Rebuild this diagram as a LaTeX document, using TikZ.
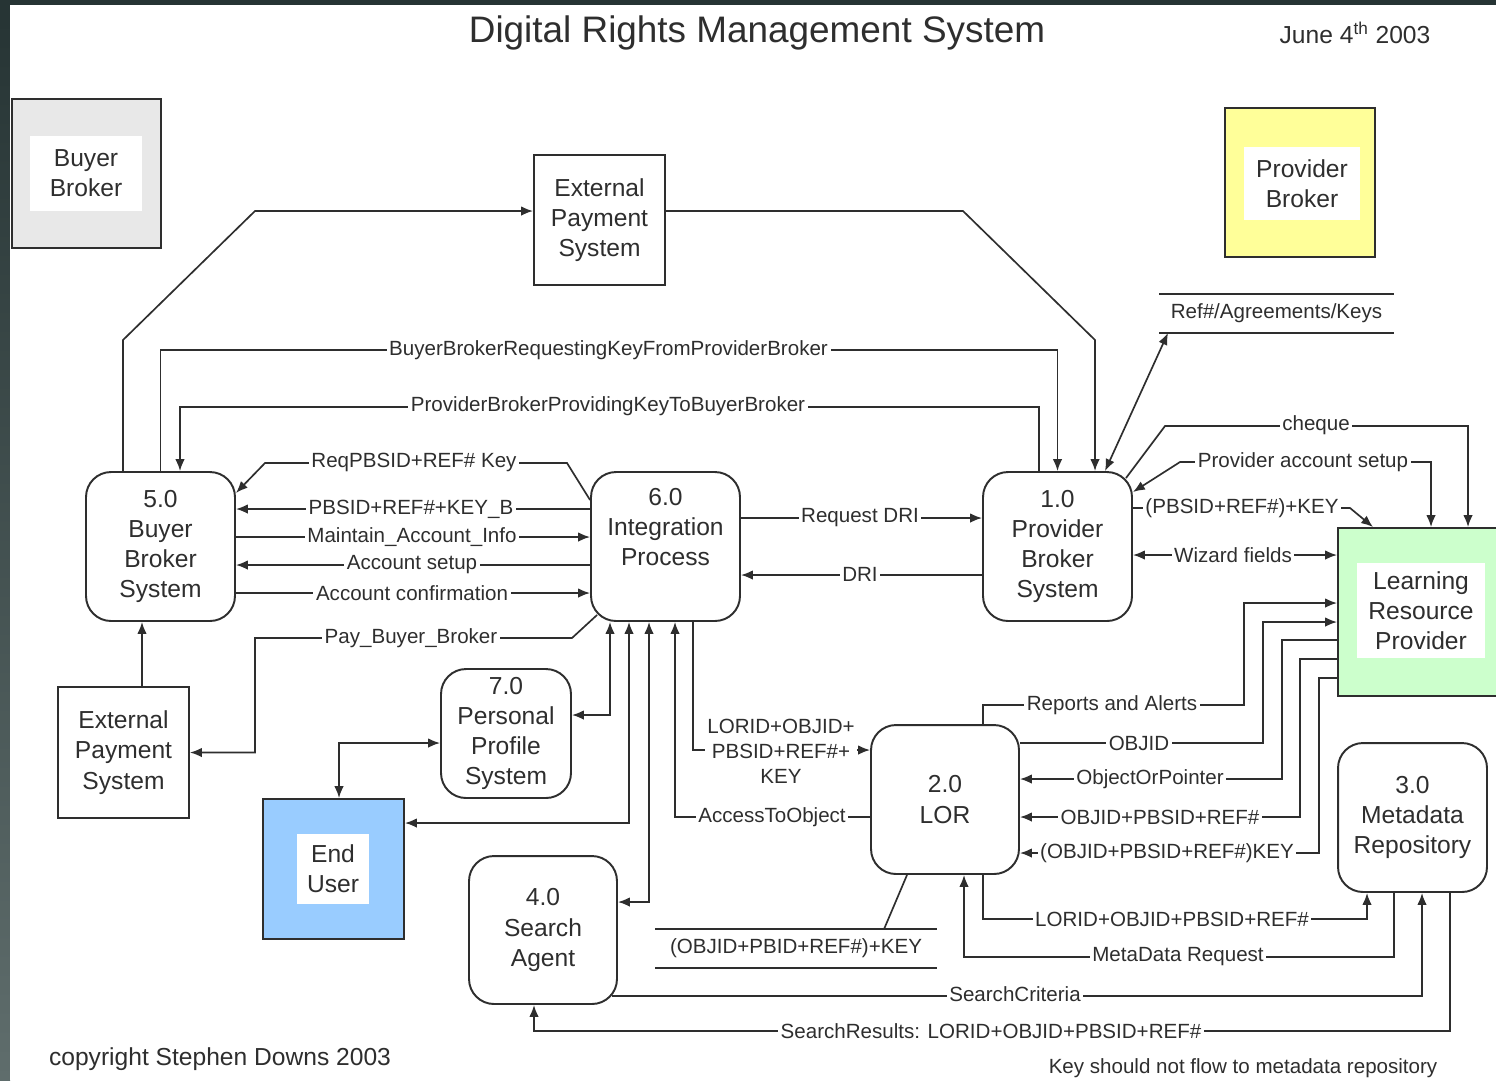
\documentclass[tikz,border=0pt]{standalone}
\usepackage{fontspec}
\setmainfont{Liberation Sans}
\usetikzlibrary{arrows.meta}

\definecolor{framedark}{HTML}{263434}
\definecolor{framelight}{HTML}{5F6D6C}
\definecolor{buyergray}{HTML}{E8E8E8}
\definecolor{provyellow}{HTML}{FFFF99}
\definecolor{userblue}{HTML}{99CCFF}
\definecolor{lrpgreen}{HTML}{CCFFCC}

\newcommand\boxfont{\fontsize{14}{17.2}\selectfont}
\newcommand\lblfont{\fontsize{11.7}{14.2}\selectfont}

\begin{document}
\begin{tikzpicture}[x=0.02cm, y=-0.02cm, color=black!82,
    >={Latex[length=6.8pt,width=5.4pt]}, line width=0.95pt,
    proc/.style={draw, line width=1.1pt, rounded corners=0.5cm, fill=white, align=center,
      font=\boxfont, minimum width=2.98cm, minimum height=2.98cm, inner sep=0pt},
    extbox/.style={draw, line width=1.1pt, fill=white, align=center, font=\boxfont,
      minimum width=2.62cm, minimum height=2.6cm, inner sep=0pt},
    actor/.style={draw, line width=1.1pt, minimum width=2.98cm, minimum height=2.98cm, inner sep=0pt},
    actorlbl/.style={fill=white, align=center, font=\boxfont, inner sep=0pt},
    lbl/.style={fill=white, font=\lblfont, inner sep=1.5pt, align=center},
    store/.style={font=\lblfont, minimum height=0.74cm, inner sep=0pt}]
    \useasboundingbox (0,0) rectangle (1496,1080);

    % Frame
    \fill[framedark] (0,0) rectangle (1496,1080);
    \shade[top color=framedark, bottom color=framelight] (0,0) rectangle (10,1080);
    \fill[white] (10,5) rectangle (1496,1080);

    % Titles
    \node[font=\fontsize{21}{25}\selectfont] (title) at (757,33) {Digital Rights Management System};
    \node[font=\boxfont] (date) at (1355,33) {June 4\textsuperscript{th} 2003};
    \node[font=\boxfont] (copyright) at (220,1059) {copyright Stephen Downs 2003};
    \node[font=\lblfont] (keynote) at (1243,1068) {Key should not flow to metadata repository};

    % Actors
    \node[actor, fill=buyergray] (buyer) at (86.5,173.5) {};
    \node[actorlbl, minimum width=2.24cm, minimum height=1.5cm] (buyerlbl) at (86,173.5) {Buyer\\Broker};
    \node[actor, fill=provyellow, minimum width=3cm] (provider) at (1300,182.5) {};
    \node[actorlbl, minimum width=2.32cm, minimum height=1.46cm] (providerlbl) at (1302,183.5) {Provider\\Broker};
    \node[actor, fill=userblue, minimum width=2.82cm, minimum height=2.8cm] (enduser) at (333.5,869) {};
    \node[actorlbl, minimum width=1.44cm, minimum height=1.4cm] (enduserlbl) at (333,869) {End\\User};
    \node[actor, fill=lrpgreen, minimum width=3.32cm, minimum height=3.36cm] (lrp) at (1421,612) {};
    \node[actorlbl, minimum width=2.56cm, minimum height=1.9cm] (lrplbl) at (1421,610.5) {Learning\\Resource\\Provider};

    % Processes
    \node[proc] (bbsys) at (160.5,546.5) {5.0\\Buyer\\Broker\\System};
    \node[proc] (integ) at (665.5,546.5) {6.0\\Integration\\Process\\\strut};
    \node[proc] (pbsys) at (1057.5,546.5) {1.0\\Provider\\Broker\\System};
    \node[proc, minimum width=2.6cm, minimum height=2.58cm] (profile) at (506,733.5) {7.0\\Personal\\Profile\\System};
    \node[proc, minimum width=2.96cm] (lor) at (945,799.5) {2.0\\LOR};
    \node[proc] (metarep) at (1412.5,817.5) {3.0\\Metadata\\Repository};
    \node[proc, minimum width=2.96cm, minimum height=2.96cm] (search) at (543,930) {4.0\\Search\\Agent};
    \node[extbox] (extpayA) at (599.5,220) {External\\Payment\\System};
    \node[extbox, minimum height=2.62cm] (extpayB) at (123.5,752.5) {External\\Payment\\System};

    % Data stores
    \node[store, minimum width=4.66cm] (storekeys) at (1276.5,313.5) {Ref\#/Agreements/Keys};
    \draw (storekeys.north west) -- (storekeys.north east)
          (storekeys.south west) -- (storekeys.south east);
    \node[store, minimum width=5.6cm] (storeobj) at (796,948.5) {(OBJID+PBID+REF\#)+KEY};
    \draw (storeobj.north west) -- (storeobj.north east)
          (storeobj.south west) -- (storeobj.south east);

    % Payments
    \draw[->] (123,0 |- bbsys.north) -- (123,340) -- (255,211) -- (extpayA.west |- 0,211);
    \draw[->] (extpayA.east |- 0,211) -- (963,211) -- (1095,340) -- (1095,0 |- pbsys.north);
    \draw[->] ([shift={(7,-7)}]integ.south west) -- (572,638) -- (255,638) |- (extpayB.east);
    \draw[->] (extpayB.north -| 142,0) -- (bbsys.south -| 142,0);

    % Key exchange
    \draw[->] (bbsys.north) |- (pbsys.north |- 0,350) -- (pbsys.north);
    \draw[->] (1039,0 |- pbsys.north) |- (180,407) -- (180,0 |- bbsys.north);
    \draw[<->] (1105,0 |- pbsys.north) -- (1168,0 |- storekeys.south);

    % 5.0 <-> 6.0
    \draw[->] (integ.west |- 0,500) -- (567,463) -- (265,463) -- (bbsys.east |- 0,493);
    \draw[->] (integ.west |- 0,509) -- (bbsys.east |- 0,509);
    \draw[->] (bbsys.east |- 0,537) -- (integ.west |- 0,537);
    \draw[->] (integ.west |- 0,565) -- (bbsys.east |- 0,565);
    \draw[->] (bbsys.east |- 0,593) -- (integ.west |- 0,593);

    % 6.0 <-> 1.0
    \draw[->] (integ.east |- 0,518) -- (pbsys.west |- 0,518);
    \draw[->] (pbsys.west |- 0,575) -- (integ.east |- 0,575);

    % Below 6.0
    \draw[<->] (profile.east |- 0,715) -| (610,0 |- integ.south);
    \draw[<->] (enduser.east |- 0,823) -| (629,0 |- integ.south);
    \draw[<->] (search.east |- 0,902) -| (649,0 |- integ.south);
    \draw[->] (lor.west |- 0,817) -| (675,0 |- integ.south);
    \draw[->] (693,0 |- integ.south) |- (lor.west |- 0,750);
    \draw[<->] (profile.west |- 0,743) -| (339,0 |- enduser.north);

    % 1.0 <-> Learning Resource Provider
    \draw[->] ([shift={(-7,7)}]pbsys.north east) -- (1165,426) -| (1468,0 |- lrp.north);
    \draw[<->] (1431,0 |- lrp.north) |- (1180,462) -- (pbsys.east |- 0,492);
    \draw[->] (pbsys.east |- 0,508) -- (1350,508) -- (1373,0 |- lrp.north);
    \draw[<->] (pbsys.east |- 0,555) -- (lrp.west |- 0,555);

    % LOR <-> Learning Resource Provider
    \draw[->] (983,0 |- lor.north) |- (1244,705) |- (lrp.west |- 0,603);
    \draw[->] (lor.east |- 0,743) -| (1263,622) -- (lrp.west |- 0,622);
    \draw[->] (lrp.west |- 0,640) -| (1282,779) -- (lor.east |- 0,779);
    \draw[->] (lrp.west |- 0,659) -| (1300,817) -- (lor.east |- 0,817);
    \draw[->] (lrp.west |- 0,678) -| (1319,853) -- (lor.east |- 0,853);

    % Metadata repository
    \draw[->] (983,0 |- lor.south) |- (1367,919) -- (1367,0 |- metarep.south);
    \draw[->] (1394,0 |- metarep.south) |- (964,957) -- (964,0 |- lor.south);
    \draw[->] ([shift={(-6,-9)}]search.south east) -| (1422,0 |- metarep.south);
    \draw[->] (1450,0 |- metarep.south) |- (534,1031) -- (534,0 |- search.south);
    \draw (907,0 |- lor.south) -- (884,0 |- storeobj.north);

    % Flow labels
    \node[lbl] (lreqkey) at (608.5,350) {BuyerBrokerRequestingKeyFromProviderBroker};
    \node[lbl] (lprovkey) at (608,406) {ProviderBrokerProvidingKeyToBuyerBroker};
    \node[lbl] (lreqpbsid) at (414,462) {ReqPBSID+REF\# Key};
    \node[lbl] (lkeyb) at (411,509) {PBSID+REF\#+KEY\_B};
    \node[lbl] (lmaint) at (412,537) {Maintain\_Account\_Info};
    \node[lbl] (lsetup) at (412,565) {Account setup};
    \node[lbl] (lconfirm) at (412,593) {Account confirmation};
    \node[lbl] (lpay) at (411,638) {Pay\_Buyer\_Broker};
    \node[lbl] (lreqdri) at (860,518) {Request DRI};
    \node[lbl] (ldri) at (860,574) {DRI};
    \node[lbl] (lcheque) at (1316,425) {cheque};
    \node[lbl] (lprovsetup) at (1303,462) {Provider account setup};
    \node[lbl] (lpbkey) at (1242,508) {(PBSID+REF\#)+KEY};
    \node[lbl] (lwizard) at (1233,555) {Wizard fields};
    \node[lbl] (llorid) at (781,751) {LORID+OBJID+\\PBSID+REF\#+\\KEY};
    \node[lbl] (laccess) at (772,817) {AccessToObject};
    \node[lbl] (lreports) at (1112,705) {Reports and Alerts};
    \node[lbl] (lobjid) at (1139,743) {OBJID};
    \node[lbl] (lpointer) at (1150,779) {ObjectOrPointer};
    \node[lbl] (lobjref) at (1160,817) {OBJID+PBSID+REF\#};
    \node[lbl] (lobjkey) at (1167,853) {(OBJID+PBSID+REF\#)KEY};
    \node[lbl] (lmeta) at (1172,919) {LORID+OBJID+PBSID+REF\#};
    \node[lbl] (lmetareq) at (1178,957) {MetaData Request};
    \node[lbl] (lcriteria) at (1015,994) {SearchCriteria};
    \node[lbl] (lresults) at (991,1031) {SearchResults: LORID+OBJID+PBSID+REF\#};
\end{tikzpicture}
\end{document}
